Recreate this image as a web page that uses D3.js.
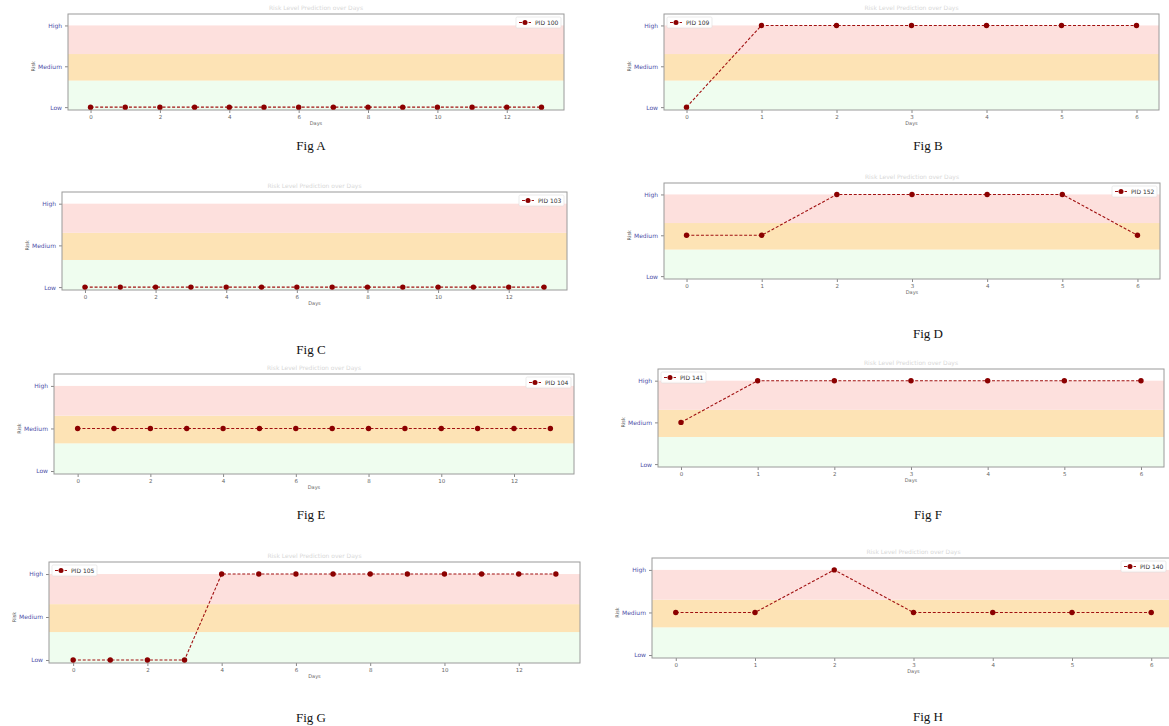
<!DOCTYPE html>
<html>
    <head>
        <meta charset="utf-8" />
        <title> Risk level per patient </title>
        <style>
          body { margin: 0; background: #fff; }
        </style>
        <script src="https://d3js.org/d3.v7.min.js"></script>
    </head>

    <body>
      <script>

        // the data, one series per figure
        var figLabels = ["Fig A", "Fig B", "Fig C", "Fig D", "Fig E", "Fig F", "Fig G", "Fig H"];
        var pids = ["PID 100", "PID 109", "PID 103", "PID 152", "PID 104", "PID 141", "PID 105", "PID 140"];
        var riskLevels = ["Low", "Medium", "High"];

        var riskA = [0, 0, 0, 0, 0, 0, 0, 0, 0, 0, 0, 0, 0, 0];
        var riskB = [0, 2, 2, 2, 2, 2, 2];
        var riskC = [0, 0, 0, 0, 0, 0, 0, 0, 0, 0, 0, 0, 0, 0];
        var riskD = [1, 1, 2, 2, 2, 2, 1];
        var riskE = [1, 1, 1, 1, 1, 1, 1, 1, 1, 1, 1, 1, 1, 1];
        var riskF = [1, 2, 2, 2, 2, 2, 2];
        var riskG = [0, 0, 0, 0, 2, 2, 2, 2, 2, 2, 2, 2, 2, 2];
        var riskH = [1, 1, 2, 1, 1, 1, 1];

        var series = [riskA, riskB, riskC, riskD, riskE, riskF, riskG, riskH];

        // background bands: green / orange / red
        var bandLimits = [[-0.07, 0.65], [0.65, 1.3], [1.3, 2]];
        var bandColors = ["#effdef", "#fde3b5", "#fde0dd"];

        // where each little plot sits on the page
        var layout = [
          {x0: 68,  x1: 564,  y0: 14,  y1: 110, legend: "right", lx: 311, ly: 150},
          {x0: 664, x1: 1159, y0: 14,  y1: 110, legend: "left",  lx: 928, ly: 150},
          {x0: 62,  x1: 567,  y0: 192, y1: 290, legend: "right", lx: 311, ly: 354},
          {x0: 664, x1: 1160, y0: 183, y1: 279, legend: "right", lx: 928, ly: 338},
          {x0: 54,  x1: 574,  y0: 374, y1: 474, legend: "right", lx: 311, ly: 519},
          {x0: 658, x1: 1164, y0: 369, y1: 467, legend: "left",  lx: 928, ly: 519},
          {x0: 49,  x1: 580,  y0: 562, y1: 663, legend: "left",  lx: 311, ly: 722},
          {x0: 652, x1: 1175, y0: 558, y1: 658, legend: "right", lx: 928, ly: 721}
        ];

        var canvas = d3.select("body").append("svg")
            .attr("width", 1169)
            .attr("height", 726);

        series.forEach(function(values, i){
          var L = layout[i];
          var n = values.length;
          var pad = (n - 1) * 0.05;

          var x = d3.scaleLinear().domain([-pad, n - 1 + pad]).range([L.x0, L.x1]);
          var y = d3.scaleLinear().domain([-0.07, 2.28]).range([L.y1, L.y0]);

          var g = canvas.append("g");

          // faint title above the box
          g.append("text")
              .attr("x", (L.x0 + L.x1) / 2)
              .attr("y", L.y0 - 4)
              .attr("text-anchor", "middle")
              .attr("font-family", "DejaVu Sans")
              .attr("font-size", 6)
              .attr("fill", "#d8d8d8")
              .text("Risk Level Prediction over Days");

          // bands
          g.selectAll("rect.band")
              .data(bandLimits)
              .enter()
              .append("rect")
              .attr("class", "band")
              .attr("x", L.x0)
              .attr("width", L.x1 - L.x0)
              .attr("y", function(d){ return y(d[1]); })
              .attr("height", function(d){ return y(d[0]) - y(d[1]); })
              .attr("fill", function(d, j){ return bandColors[j]; });

          // axes
          var step = n > 7 ? 2 : 1;
          var xAxis = d3.axisBottom(x)
              .tickValues(d3.range(0, n, step))
              .tickSize(3)
              .tickFormat(d3.format("d"));
          var yAxis = d3.axisLeft(y)
              .tickValues([0, 1, 2])
              .tickSize(3)
              .tickFormat(function(d){ return riskLevels[d]; });

          var gx = g.append("g")
              .attr("transform", "translate(0," + L.y1 + ")")
              .call(xAxis);
          gx.select(".domain").remove();
          gx.selectAll("line").attr("stroke", "#888");
          gx.selectAll("text")
              .attr("font-family", "DejaVu Sans")
              .attr("font-size", 5.5)
              .attr("fill", "#666")
              .attr("dy", "0.5em");

          var gy = g.append("g")
              .attr("transform", "translate(" + L.x0 + ",0)")
              .call(yAxis);
          gy.select(".domain").remove();
          gy.selectAll("line").attr("stroke", "#888");
          gy.selectAll("text")
              .attr("font-family", "DejaVu Sans")
              .attr("font-size", 6)
              .attr("fill", "#5050a8");

          // axis titles
          g.append("text")
              .attr("x", (L.x0 + L.x1) / 2)
              .attr("y", L.y1 + 15)
              .attr("text-anchor", "middle")
              .attr("font-family", "DejaVu Sans")
              .attr("font-size", 5)
              .attr("fill", "#666")
              .text("Days");

          g.append("text")
              .attr("transform", "translate(" + (L.x0 - 33) + "," + y(1) + ") rotate(-90)")
              .attr("text-anchor", "middle")
              .attr("font-family", "DejaVu Sans")
              .attr("font-size", 5)
              .attr("fill", "#555")
              .text("Risk");

          // frame
          g.append("rect")
              .attr("x", L.x0)
              .attr("y", L.y0)
              .attr("width", L.x1 - L.x0)
              .attr("height", L.y1 - L.y0)
              .attr("fill", "none")
              .attr("stroke", "#9a9a9a")
              .attr("stroke-width", 1);

          // the line
          var line = d3.line()
              .x(function(d, k){ return x(k); })
              .y(function(d){ return y(d); });

          g.append("path")
              .datum(values)
              .attr("d", line)
              .attr("fill", "none")
              .attr("stroke", "#a01010")
              .attr("stroke-width", 1.1)
              .attr("stroke-dasharray", "3,1.8");

          g.selectAll("circle.pt")
              .data(values)
              .enter()
              .append("circle")
              .attr("class", "pt")
              .attr("cx", function(d, k){ return x(k); })
              .attr("cy", function(d){ return y(d); })
              .attr("r", 2.7)
              .attr("fill", "#8b0000");

          // legend
          var lw = 45, lh = 11;
          var right = Math.min(L.x1, 1169);
          var legX = L.legend == "right" ? right - lw - 3 : L.x0 + 3;
          var legY = L.y0 + 3;
          var leg = g.append("g").attr("transform", "translate(" + legX + "," + legY + ")");
          leg.append("rect")
              .attr("width", lw)
              .attr("height", lh)
              .attr("rx", 1.5)
              .attr("fill", "#fff")
              .attr("fill-opacity", 0.85)
              .attr("stroke", "#ddd")
              .attr("stroke-width", 0.6);
          leg.append("line")
              .attr("x1", 3).attr("x2", 15)
              .attr("y1", lh / 2).attr("y2", lh / 2)
              .attr("stroke", "#a01010")
              .attr("stroke-width", 1.1)
              .attr("stroke-dasharray", "3,1.8");
          leg.append("circle")
              .attr("cx", 9).attr("cy", lh / 2)
              .attr("r", 2.5)
              .attr("fill", "#8b0000");
          leg.append("text")
              .attr("x", 19)
              .attr("y", lh / 2 + 2)
              .attr("font-family", "DejaVu Sans")
              .attr("font-size", 6)
              .attr("fill", "#333")
              .text(pids[i]);

          // figure caption
          canvas.append("text")
              .attr("x", L.lx)
              .attr("y", L.ly)
              .attr("text-anchor", "middle")
              .attr("font-family", "Liberation Serif")
              .attr("font-size", 13)
              .attr("fill", "#111")
              .text(figLabels[i]);
        });

      </script>
    </body>
</html>
